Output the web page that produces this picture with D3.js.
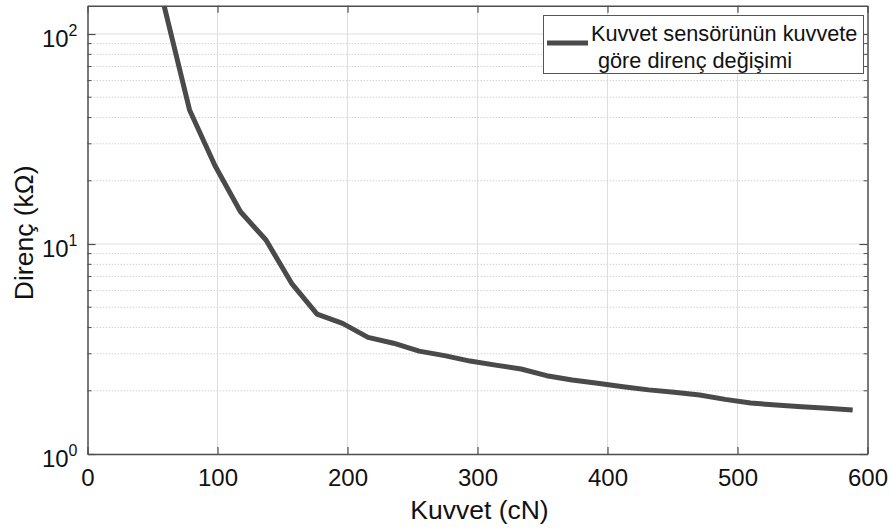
<!DOCTYPE html>
<html>
<head>
<meta charset="utf-8">
<script src="https://cdn.jsdelivr.net/npm/d3@7"></script>
<style>
  html, body { margin: 0; padding: 0; background: #fff; }
  svg { display: block; font-family: "Liberation Sans", Arial, Helvetica, sans-serif; }
</style>
</head>
<body>
<svg id="chart" width="890" height="529"></svg>
<script>
// Force applied to the sensor (cN) and the measured resistance (kΩ)
const force = [58.9, 78.5, 98.1, 117.7, 137.3, 157.0, 176.6, 196.2, 215.8, 235.4,
               255.1, 274.7, 294.3, 313.9, 333.5, 353.2, 372.8, 392.4, 412.0, 431.6,
               451.3, 470.9, 490.5, 510.1, 529.7, 549.4, 569.0, 588.6];
const resistance = [136.4, 43.5, 23.6, 14.25, 10.45, 6.50, 4.64, 4.19, 3.59, 3.37,
                    3.09, 2.94, 2.77, 2.65, 2.54, 2.36, 2.25, 2.17, 2.09, 2.02,
                    1.97, 1.91, 1.82, 1.75, 1.71, 1.68, 1.65, 1.62];

const xTicks = [0, 100, 200, 300, 400, 500, 600];
const yMajorTicks = [1, 10, 100];
const yExponents = ["0", "1", "2"];
const yMinorTicks = [2, 3, 4, 5, 6, 7, 8, 9, 20, 30, 40, 50, 60, 70, 80, 90];

const xLabel = "Kuvvet (cN)";
const yLabel = "Direnç (kΩ)";
const legendLines = ["Kuvvet sensörünün kuvvete", "göre direnç değişimi"];

const plotLeft = 87.5, plotRight = 867.5, plotTop = 5.7, plotBottom = 454;
const svg = d3.select("#chart");

const x = d3.scaleLinear().domain([0, 600]).range([plotLeft, plotRight]);
const y = d3.scaleLog().domain([1, d3.max(resistance)]).range([plotBottom, plotTop]);

const axisColor = "#4d4d4d";
const gridColor = "#dedede";
const lineColor = "#4a4a4a";

// grid
const grid = svg.append("g");
grid.selectAll(".vgrid").data(xTicks.filter(t => t > 0 && t < 600)).join("line")
  .attr("x1", d => x(d)).attr("x2", d => x(d))
  .attr("y1", plotTop).attr("y2", plotBottom)
  .attr("stroke", gridColor).attr("stroke-width", 1);
grid.selectAll(".hminor").data(yMinorTicks.filter(t => t < y.domain()[1])).join("line")
  .attr("x1", plotLeft).attr("x2", plotRight)
  .attr("y1", d => y(d)).attr("y2", d => y(d))
  .attr("stroke", "#d4d4d4").attr("stroke-width", 1)
  .attr("stroke-dasharray", "1.5,1.5");
grid.selectAll(".hmajor").data(yMajorTicks.filter(t => t > 1)).join("line")
  .attr("x1", plotLeft).attr("x2", plotRight)
  .attr("y1", d => y(d)).attr("y2", d => y(d))
  .attr("stroke", gridColor).attr("stroke-width", 1);

// data line
svg.append("defs").append("clipPath").attr("id", "plotClip")
  .append("rect").attr("x", plotLeft).attr("y", plotTop)
  .attr("width", plotRight - plotLeft).attr("height", plotBottom - plotTop);

const pts = force.map((f, i) => [f, resistance[i]]);
svg.append("path")
  .datum(pts)
  .attr("clip-path", "url(#plotClip)")
  .attr("fill", "none")
  .attr("stroke", lineColor)
  .attr("stroke-width", 5)
  .attr("stroke-linejoin", "round")
  .attr("d", d3.line().x(d => x(d[0])).y(d => y(d[1])));

// axes with inward ticks on all four sides
function styleAxis(g) {
  g.selectAll(".domain").attr("stroke", axisColor).attr("stroke-width", 1.5);
  g.selectAll(".tick line").attr("stroke", axisColor).attr("stroke-width", 1.2);
}

const xAxis = svg.append("g").attr("transform", `translate(0,${plotBottom})`)
  .call(d3.axisBottom(x).tickValues(xTicks).tickSizeInner(-7).tickSizeOuter(0).tickPadding(15));
styleAxis(xAxis);
xAxis.selectAll(".tick text")
  .attr("font-size", 24).attr("fill", "#111")
  .attr("font-family", "'Liberation Sans', Arial, sans-serif");

const xAxisTop = svg.append("g").attr("transform", `translate(0,${plotTop})`)
  .call(d3.axisTop(x).tickValues(xTicks).tickSizeInner(-7).tickSizeOuter(0).tickFormat(""));
styleAxis(xAxisTop);

const yAxis = svg.append("g").attr("transform", `translate(${plotLeft},0)`)
  .call(d3.axisLeft(y).tickValues(yMajorTicks).tickSizeInner(-8).tickSizeOuter(0).tickFormat(""));
styleAxis(yAxis);
const yAxisR = svg.append("g").attr("transform", `translate(${plotRight},0)`)
  .call(d3.axisRight(y).tickValues(yMajorTicks).tickSizeInner(-8).tickSizeOuter(0).tickFormat(""));
styleAxis(yAxisR);

// minor ticks on left and right
const minor = yMinorTicks.filter(t => t < y.domain()[1]);
svg.append("g").selectAll("line").data(minor).join("line")
  .attr("x1", plotLeft).attr("x2", plotLeft + 4)
  .attr("y1", d => y(d)).attr("y2", d => y(d))
  .attr("stroke", axisColor).attr("stroke-width", 1);
svg.append("g").selectAll("line").data(minor).join("line")
  .attr("x1", plotRight).attr("x2", plotRight - 4)
  .attr("y1", d => y(d)).attr("y2", d => y(d))
  .attr("stroke", axisColor).attr("stroke-width", 1);

// y tick labels as powers of ten
const yLab = svg.append("g").selectAll("text").data(yMajorTicks).join("text")
  .attr("x", plotLeft - 10)
  .attr("y", d => y(d) + 13)
  .attr("text-anchor", "end")
  .attr("font-size", 24)
  .attr("fill", "#111");
yLab.append("tspan").text("10");
yLab.append("tspan")
  .attr("font-size", 16)
  .attr("dy", -11)
  .text((d, i) => yExponents[i]);

// axis titles
svg.append("text")
  .attr("x", (plotLeft + plotRight) / 2 + 2)
  .attr("y", 519)
  .attr("text-anchor", "middle")
  .attr("font-size", 26.5)
  .attr("fill", "#111")
  .text(xLabel);

svg.append("text")
  .attr("transform", `translate(33,${(plotTop + plotBottom) / 2 + 3}) rotate(-90)`)
  .attr("text-anchor", "middle")
  .attr("font-size", 26.5)
  .attr("fill", "#111")
  .text(yLabel);

// legend
const lg = svg.append("g");
lg.append("rect")
  .attr("x", 543.5).attr("y", 15.5).attr("width", 320).attr("height", 58)
  .attr("fill", "#fff").attr("stroke", "#555").attr("stroke-width", 1);
lg.append("line")
  .attr("x1", 547).attr("x2", 588).attr("y1", 43).attr("y2", 43)
  .attr("stroke", lineColor).attr("stroke-width", 5);
lg.selectAll("text.leg").data(legendLines).join("text")
  .attr("x", (d, i) => i === 0 ? 591 : 598)
  .attr("y", (d, i) => i === 0 ? 40.5 : 68)
  .attr("font-size", 21.7)
  .attr("fill", "#111")
  .text(d => d);
</script>
</body>
</html>
